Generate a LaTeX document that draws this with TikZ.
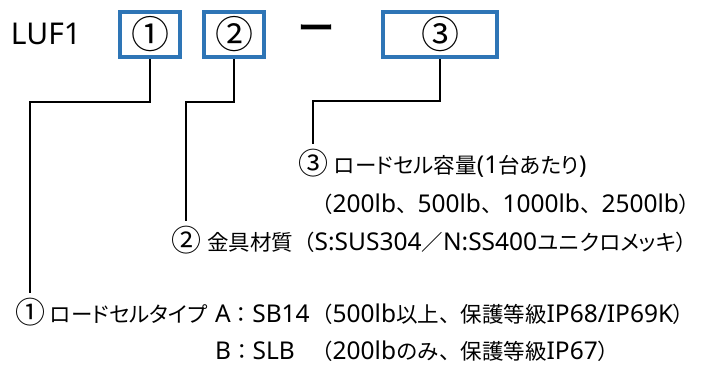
\documentclass[tikz,border=0pt]{standalone}
\usepackage{fontspec}
\newfontfamily\jpfont{Noto Sans CJK JP}
\newfontfamily\jppfont[RawFeature=+palt]{Noto Sans CJK JP}
\newfontfamily\jpbar[FakeBold=4]{Noto Sans CJK JP}
\newfontfamily\latfont{Noto Sans}
\newcommand\lat[1]{{\latfont\fontsize{24.5}{26}\selectfont #1}}
\newcommand\prop[1]{{\jppfont #1}}
\usetikzlibrary{positioning}
\definecolor{codeblue}{RGB}{46,117,182}

\begin{document}
\begin{tikzpicture}[
    x=1pt, y=-1pt,
    codebox/.style={draw=codeblue, line width=4pt, minimum height=45pt,
                    inner sep=0pt, font=\jpfont\fontsize{38}{40}\selectfont},
    label/.style={inner sep=0pt, font=\jpfont\fontsize{21.5}{26}\selectfont},
    num/.style={inner sep=0pt, anchor=base, font=\jpfont\fontsize{30}{32}\selectfont},
    item/.style={label, anchor=base west},
    leader/.style={line width=1.7pt, black, shorten >=4pt},
  ]
    \useasboundingbox (0,0) rectangle (701,365);

    % Model code
    \node[inner sep=0pt, font=\latfont\fontsize{30}{32}\selectfont] (prefix) at (46,34) {LUF1};
    \node[codebox, minimum width=60pt] (box1) at (150,34.5) {①};
    \node[codebox, minimum width=60pt] (box2) at (234,34.5) {②};
    \node[inner sep=0pt, font=\jpbar\fontsize{36}{40}\selectfont] (dash) at (316,33) {ー};
    \node[codebox, minimum width=114pt] (box3) at (440,34.5) {③};

    % Capacity
    \node[num] (num3) at (313,174) {③};
    \node[item] (cap) at (334,173) {\prop{ロードセル容量}\lat{(1}\prop{台あたり}\lat{)}};
    \node[item] (caprange) at (311,212) {（\lat{200lb}、\lat{500lb}、\lat{1000lb}、\lat{2500lb}\prop{）}};

    % Material
    \node[num] (num2) at (186,251) {②};
    \node[item] (mat) at (207,250) {金具材質（\lat{S:SUS304}／\lat{N:SS400}ユニ\prop{クロメッキ）}};

    % Load cell type
    \node[num] (num1) at (30,323) {①};
    \node[item] (type) at (50,322) {\prop{ロードセルタイプ}};
    \node[item] (typea) at (215,322) {\lat{A}：\lat{SB14}};
    \node[item] (typeanote) at (311,322) {（\lat{500lb}以上、保護等級\lat{IP68/IP69K}\prop{）}};
    \node[item] (typeb) at (215,359) {\lat{B}：\lat{SLB}};
    \node[item] (typebnote) at (311,359) {（\lat{200lb}のみ、保護等級\lat{IP67}\prop{）}};

    % Leaders
    \draw[leader] (box1.south) -- ++(0,43) -| (num1.north);
    \draw[leader] (box2.south) -- ++(0,43) -| (num2.north);
    \draw[leader] (box3.south) -- ++(0,42) -| (num3.north);
  \end{tikzpicture}
\end{document}
